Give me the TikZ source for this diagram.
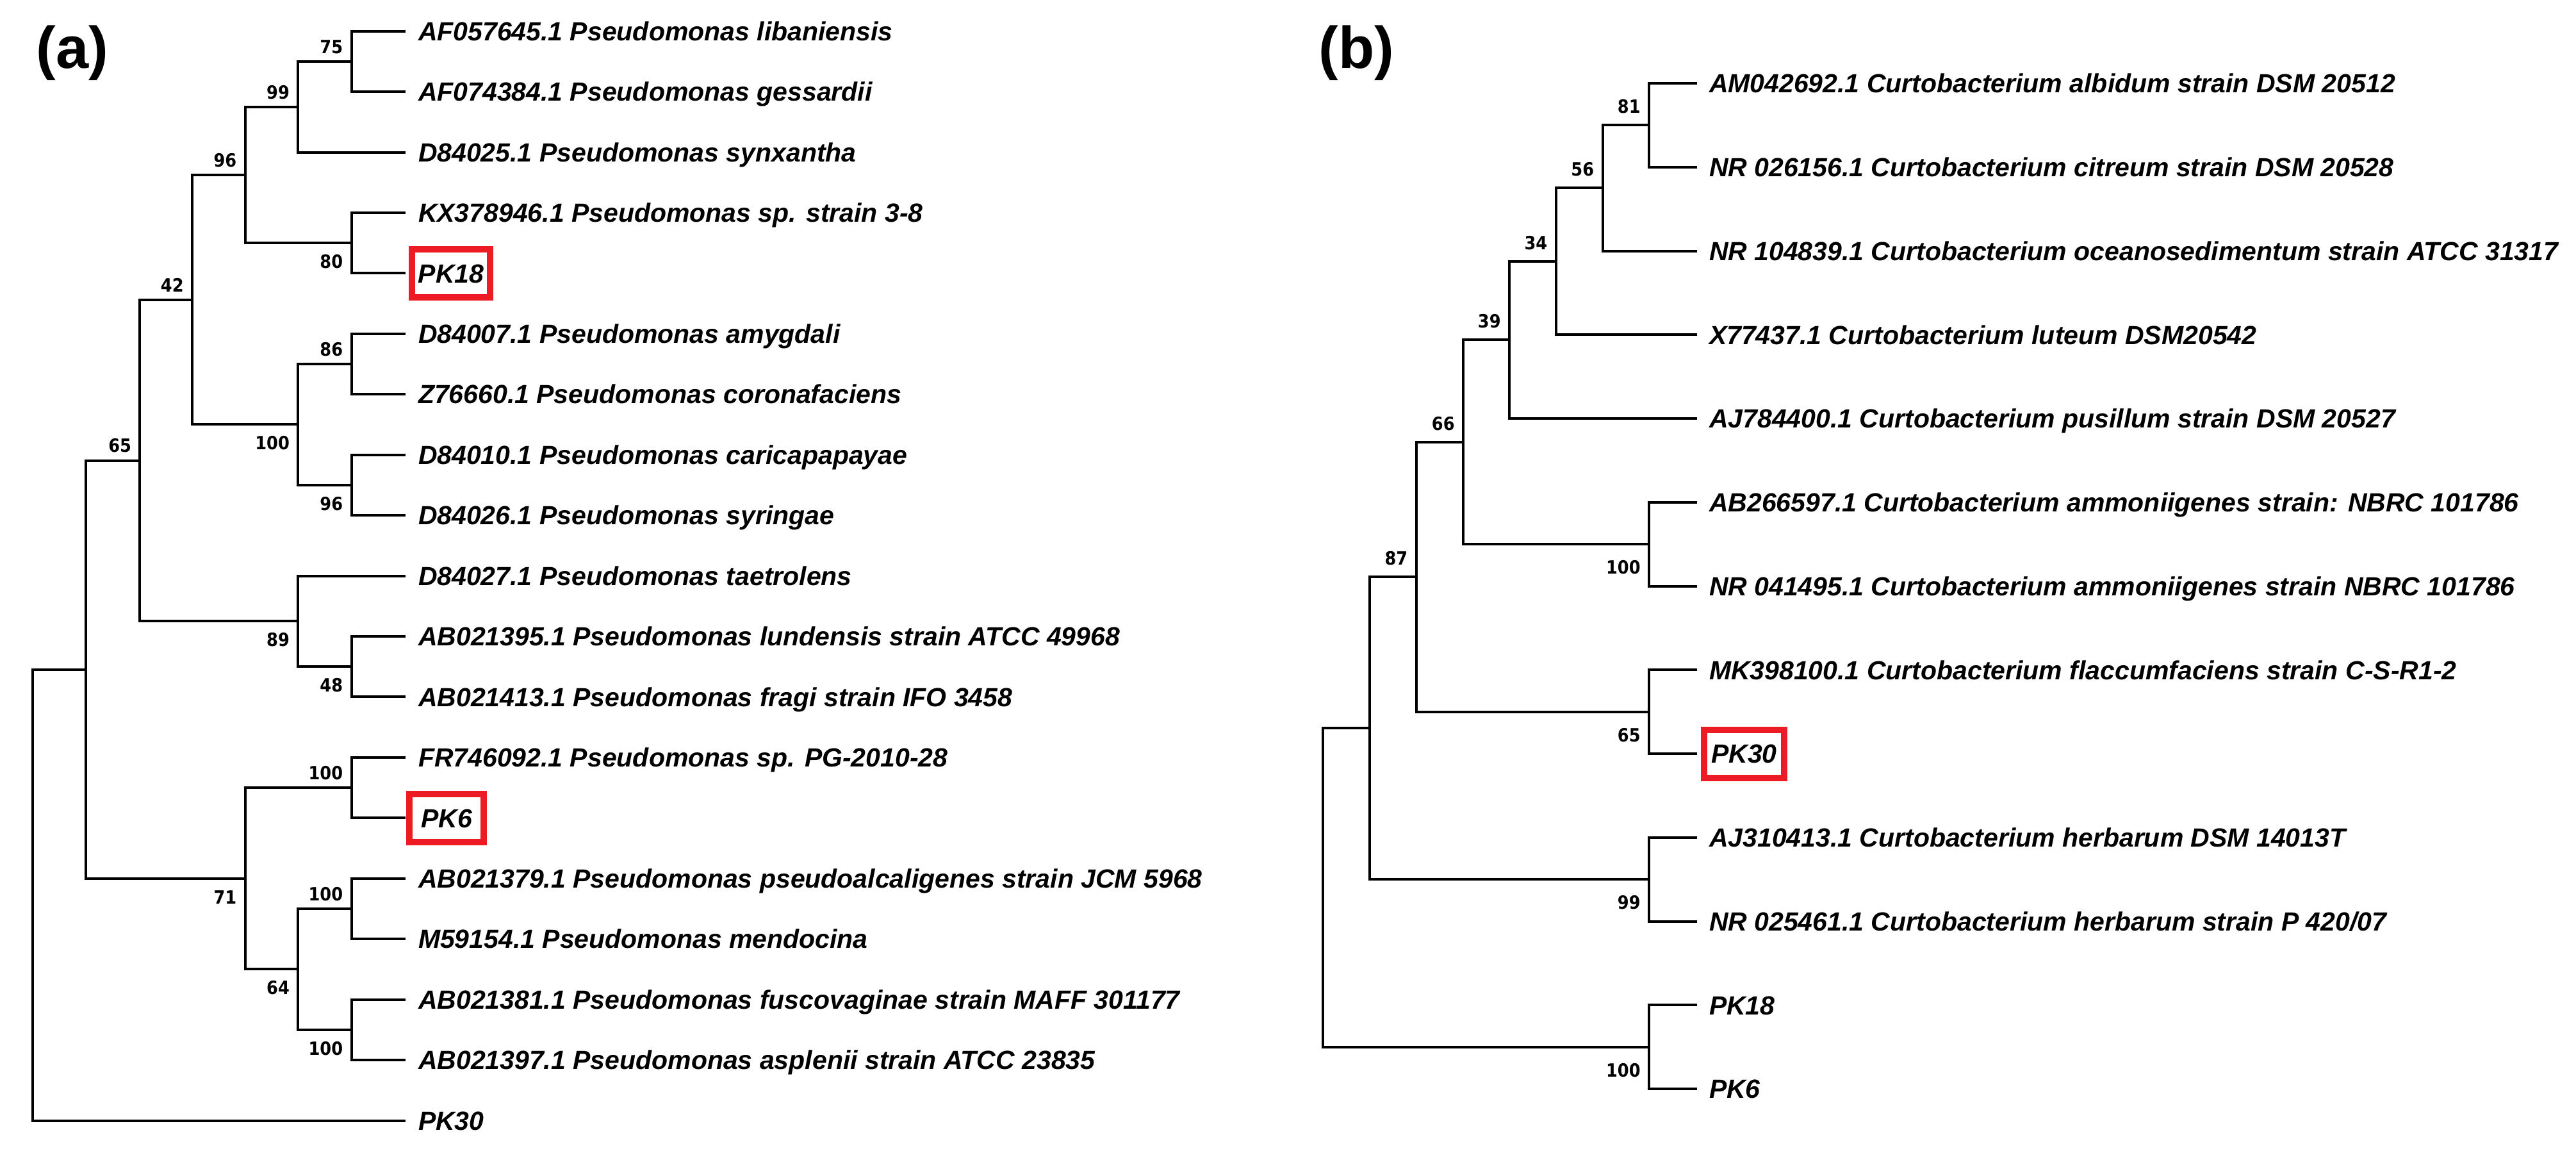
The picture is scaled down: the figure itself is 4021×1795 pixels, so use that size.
\documentclass[tikz,border=0pt]{standalone}
\usepackage{fontspec}
\setmainfont{Liberation Sans}
\newfontfamily\bootfont{DejaVu Sans}[FakeStretch=0.9]
\usetikzlibrary{calc}
\definecolor{boxred}{RGB}{237,28,36}
\begin{document}
\begin{tikzpicture}[x=0.5pt,y=-0.5pt,
  br/.style={line width=2pt, line join=miter, line cap=butt},
  leaf/.style={anchor=west, inner sep=0pt, outer sep=0pt, text height=14.7pt, text depth=0pt,
    font=\fontsize{20.5}{24}\selectfont\bfseries\itshape},
  hl/.style={leaf, anchor=center, draw=boxred, line width=5pt, minimum height=37.5pt},
  boot/.style={anchor=east, inner sep=0pt, text height=10.4pt, text depth=0pt,
    font=\bootfont\fontsize{14.25}{16}\selectfont\bfseries},
  panel/.style={inner sep=0pt, font=\fontsize{46}{50}\selectfont\bfseries}]
\useasboundingbox[fill=white] (0,0) rectangle (4021,1795);

% ---------------- panel (a) ----------------
\node[panel] (pa) at (113,83) {(a)};
% tips
\coordinate (ta0) at (632.7,48.6);
\coordinate (ta1) at (632.7,143.0);
\coordinate (ta2) at (632.7,237.5);
\coordinate (ta3) at (632.7,331.9);
\coordinate (ta4) at (632.7,426.4);
\coordinate (ta5) at (632.7,520.8);
\coordinate (ta6) at (632.7,615.2);
\coordinate (ta7) at (632.7,709.7);
\coordinate (ta8) at (632.7,804.1);
\coordinate (ta9) at (632.7,898.6);
\coordinate (ta10) at (632.7,993.0);
\coordinate (ta11) at (632.7,1087.4);
\coordinate (ta12) at (632.7,1181.9);
\coordinate (ta13) at (632.7,1276.3);
\coordinate (ta14) at (632.7,1370.8);
\coordinate (ta15) at (632.7,1465.2);
\coordinate (ta16) at (632.7,1559.6);
\coordinate (ta17) at (632.7,1654.1);
\coordinate (ta18) at (632.7,1748.5);
% labels
\node[leaf] (la0) at (653,48.6) {AF057645.1 Pseudomonas libaniensis};
\node[leaf] (la1) at (653,143.0) {AF074384.1 Pseudomonas gessardii};
\node[leaf] (la2) at (653,237.5) {D84025.1 Pseudomonas synxantha};
\node[leaf] (la3) at (653,331.9) {KX378946.1 Pseudomonas sp. strain 3-8};
\node[hl, minimum width=61pt] (la4) at (704,426.4) {PK18};
\node[leaf] (la5) at (653,520.8) {D84007.1 Pseudomonas amygdali};
\node[leaf] (la6) at (653,615.2) {Z76660.1 Pseudomonas coronafaciens};
\node[leaf] (la7) at (653,709.7) {D84010.1 Pseudomonas caricapapayae};
\node[leaf] (la8) at (653,804.1) {D84026.1 Pseudomonas syringae};
\node[leaf] (la9) at (653,898.6) {D84027.1 Pseudomonas taetrolens};
\node[leaf] (la10) at (653,993.0) {AB021395.1 Pseudomonas lundensis strain ATCC 49968};
\node[leaf] (la11) at (653,1087.4) {AB021413.1 Pseudomonas fragi strain IFO 3458};
\node[leaf] (la12) at (653,1181.9) {FR746092.1 Pseudomonas sp. PG-2010-28};
\node[hl, minimum width=58pt] (la13) at (697,1276.3) {PK6};
\node[leaf] (la14) at (653,1370.8) {AB021379.1 Pseudomonas pseudoalcaligenes strain JCM 5968};
\node[leaf] (la15) at (653,1465.2) {M59154.1 Pseudomonas mendocina};
\node[leaf] (la16) at (653,1559.6) {AB021381.1 Pseudomonas fuscovaginae strain MAFF 301177};
\node[leaf] (la17) at (653,1654.1) {AB021397.1 Pseudomonas asplenii strain ATCC 23835};
\node[leaf] (la18) at (653,1748.5) {PK30};
% internal nodes
\coordinate (n75) at (548.5,95.8);
\coordinate (n99) at (465.3,166.65);
\coordinate (n80) at (548.5,379.15);
\coordinate (n96) at (382.7,272.9);
\coordinate (n86) at (548.5,568.0);
\coordinate (n96b) at (548.5,756.9);
\coordinate (n100a) at (465.3,662.45);
\coordinate (n42) at (300,467.7);
\coordinate (n48) at (548.5,1040.2);
\coordinate (n89) at (465.3,969.4);
\coordinate (n65) at (218.4,718.55);
\coordinate (n100b) at (548.5,1229.1);
\coordinate (n100c) at (548.5,1418.0);
\coordinate (n100d) at (548.5,1606.85);
\coordinate (n64) at (465.3,1512.4);
\coordinate (n71) at (382.7,1370.75);
\coordinate (nU) at (134.2,1044.65);
\coordinate (rA) at (51,1396.6);
% branches
\draw[br] (ta0) -| (n75) |- (ta1);
\draw[br] (n75) -| (n99) |- (ta2);
\draw[br] (ta3) -| (n80) |- (ta4);
\draw[br] (n99) -| (n96) |- (n80);
\draw[br] (ta5) -| (n86) |- (ta6);
\draw[br] (ta7) -| (n96b) |- (ta8);
\draw[br] (n86) -| (n100a) |- (n96b);
\draw[br] (n96) -| (n42) |- (n100a);
\draw[br] (ta10) -| (n48) |- (ta11);
\draw[br] (ta9) -| (n89) |- (n48);
\draw[br] (n42) -| (n65) |- (n89);
\draw[br] (ta12) -| (n100b) |- (ta13);
\draw[br] (ta14) -| (n100c) |- (ta15);
\draw[br] (ta16) -| (n100d) |- (ta17);
\draw[br] (n100c) -| (n64) |- (n100d);
\draw[br] (n100b) -| (n71) |- (n64);
\draw[br] (n65) -| (nU) |- (n71);
\draw[br] (nU) -| (rA) |- (ta18);
% bootstrap values
\node[boot] (ba75) at ($(n75)+(-13,-23)$) {75};
\node[boot] (ba99) at ($(n99)+(-13,-23)$) {99};
\node[boot] (ba80) at ($(n80)+(-13,29)$) {80};
\node[boot] (ba96) at ($(n96)+(-13,-23)$) {96};
\node[boot] (ba86) at ($(n86)+(-13,-23)$) {86};
\node[boot] (ba96b) at ($(n96b)+(-13,29)$) {96};
\node[boot] (ba100a) at ($(n100a)+(-13,29)$) {100};
\node[boot] (ba42) at ($(n42)+(-13,-23)$) {42};
\node[boot] (ba48) at ($(n48)+(-13,29)$) {48};
\node[boot] (ba89) at ($(n89)+(-13,29)$) {89};
\node[boot] (ba65) at ($(n65)+(-13,-23)$) {65};
\node[boot] (ba100b) at ($(n100b)+(-13,-23)$) {100};
\node[boot] (ba100c) at ($(n100c)+(-13,-23)$) {100};
\node[boot] (ba100d) at ($(n100d)+(-13,29)$) {100};
\node[boot] (ba64) at ($(n64)+(-13,29)$) {64};
\node[boot] (ba71) at ($(n71)+(-13,29)$) {71};

% ---------------- panel (b) ----------------
\node[panel] (pb) at (2117.5,83) {(b)};
\coordinate (tb0) at (2649,130.0);
\coordinate (tb1) at (2649,260.8);
\coordinate (tb2) at (2649,391.5);
\coordinate (tb3) at (2649,522.3);
\coordinate (tb4) at (2649,653.0);
\coordinate (tb5) at (2649,783.8);
\coordinate (tb6) at (2649,914.6);
\coordinate (tb7) at (2649,1045.3);
\coordinate (tb8) at (2649,1176.1);
\coordinate (tb9) at (2649,1306.8);
\coordinate (tb10) at (2649,1437.6);
\coordinate (tb11) at (2649,1568.4);
\coordinate (tb12) at (2649,1699.1);
\node[leaf] (lb0) at (2668,130.0) {AM042692.1 Curtobacterium albidum strain DSM 20512};
\node[leaf] (lb1) at (2668,260.8) {NR 026156.1 Curtobacterium citreum strain DSM 20528};
\node[leaf] (lb2) at (2668,391.5) {NR 104839.1 Curtobacterium oceanosedimentum strain ATCC 31317};
\node[leaf] (lb3) at (2668,522.3) {X77437.1 Curtobacterium luteum DSM20542};
\node[leaf] (lb4) at (2668,653.0) {AJ784400.1 Curtobacterium pusillum strain DSM 20527};
\node[leaf] (lb5) at (2668,783.8) {AB266597.1 Curtobacterium ammoniigenes strain: NBRC 101786};
\node[leaf] (lb6) at (2668,914.6) {NR 041495.1 Curtobacterium ammoniigenes strain NBRC 101786};
\node[leaf] (lb7) at (2668,1045.3) {MK398100.1 Curtobacterium flaccumfaciens strain C-S-R1-2};
\node[hl, minimum width=62.5pt] (lb8) at (2722.5,1176.1) {PK30};
\node[leaf] (lb9) at (2668,1306.8) {AJ310413.1 Curtobacterium herbarum DSM 14013T};
\node[leaf] (lb10) at (2668,1437.6) {NR 025461.1 Curtobacterium herbarum strain P 420/07};
\node[leaf] (lb11) at (2668,1568.4) {PK18};
\node[leaf] (lb12) at (2668,1699.1) {PK6};
\coordinate (m81) at (2574,195.4);
\coordinate (m56) at (2501.5,293.45);
\coordinate (m34) at (2428.6,407.9);
\coordinate (m39) at (2356,530.45);
\coordinate (m100) at (2574,849.2);
\coordinate (m66) at (2284,689.8);
\coordinate (m65) at (2574,1110.7);
\coordinate (m87) at (2210.7,900.25);
\coordinate (m99) at (2574,1372.2);
\coordinate (mX) at (2137.8,1136.2);
\coordinate (m100b) at (2574,1633.75);
\coordinate (rB) at (2065.3,1385);
\draw[br] (tb0) -| (m81) |- (tb1);
\draw[br] (m81) -| (m56) |- (tb2);
\draw[br] (m56) -| (m34) |- (tb3);
\draw[br] (m34) -| (m39) |- (tb4);
\draw[br] (tb5) -| (m100) |- (tb6);
\draw[br] (m39) -| (m66) |- (m100);
\draw[br] (tb7) -| (m65) |- (tb8);
\draw[br] (m66) -| (m87) |- (m65);
\draw[br] (tb9) -| (m99) |- (tb10);
\draw[br] (m87) -| (mX) |- (m99);
\draw[br] (tb11) -| (m100b) |- (tb12);
\draw[br] (mX) -| (rB) |- (m100b);
\node[boot] (bb81) at ($(m81)+(-13,-29)$) {81};
\node[boot] (bb56) at ($(m56)+(-13,-29)$) {56};
\node[boot] (bb34) at ($(m34)+(-13,-29)$) {34};
\node[boot] (bb39) at ($(m39)+(-13,-29)$) {39};
\node[boot] (bb66) at ($(m66)+(-13,-29)$) {66};
\node[boot] (bb100) at ($(m100)+(-13,36)$) {100};
\node[boot] (bb87) at ($(m87)+(-13,-29)$) {87};
\node[boot] (bb65) at ($(m65)+(-13,36)$) {65};
\node[boot] (bb99) at ($(m99)+(-13,36)$) {99};
\node[boot] (bb100b) at ($(m100b)+(-13,36)$) {100};
\end{tikzpicture}
\end{document}
